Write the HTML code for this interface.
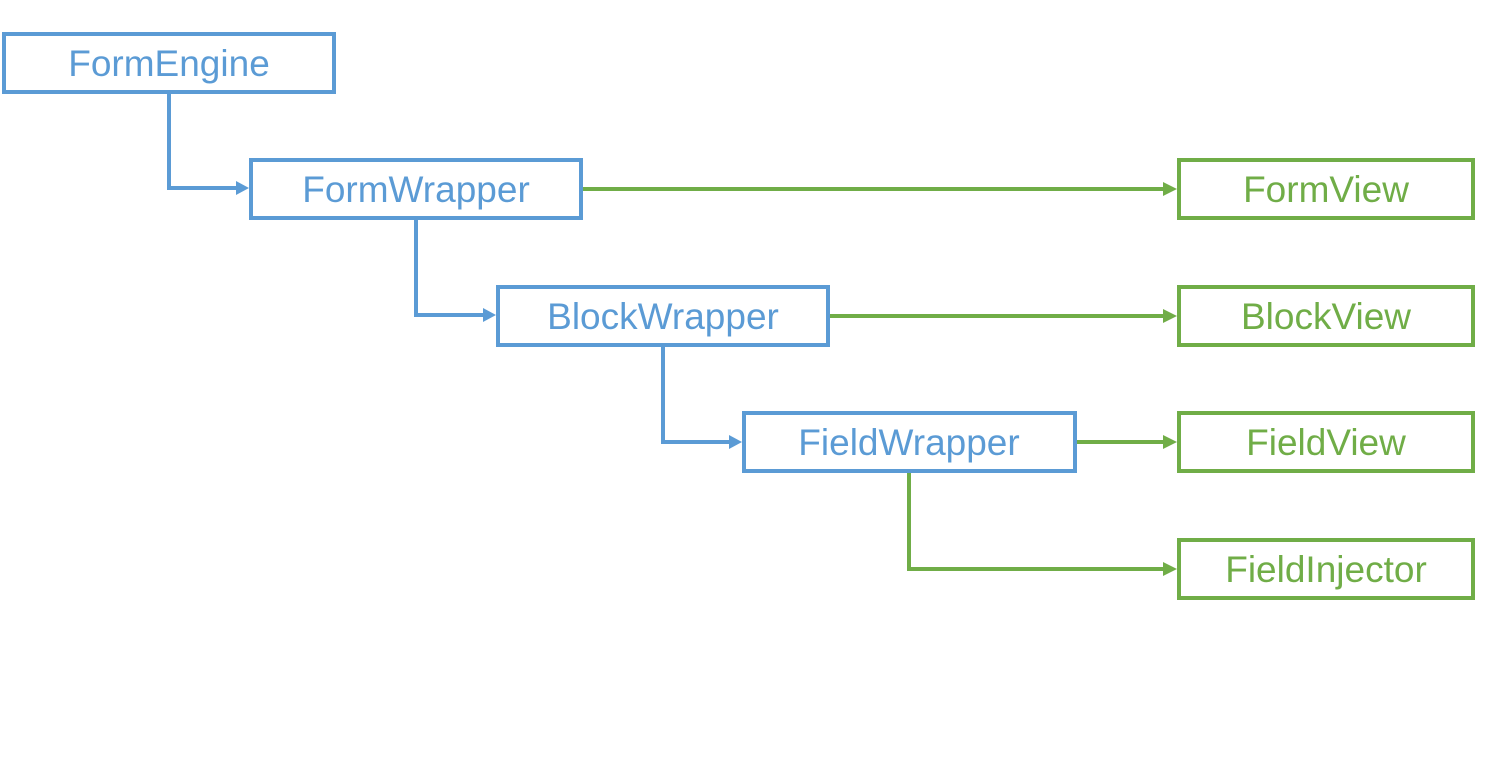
<!DOCTYPE html>
<html><head><style>body{margin:0;background:#fff}</style></head><body>
<svg width="1495" height="775" xmlns="http://www.w3.org/2000/svg" font-family="Liberation Sans, Arial, sans-serif" font-size="37">
<g fill="none" stroke-width="4">
<g stroke="#5B9BD5">
<rect x="4" y="34" width="330" height="58"/>
<rect x="251" y="160" width="330" height="58"/>
<rect x="498" y="287" width="330" height="58"/>
<rect x="744" y="413" width="331" height="58"/>
<polyline points="169,94 169,188 238,188"/>
<polyline points="416,220 416,315 485,315"/>
<polyline points="663,347 663,442 731,442"/>
</g>
<g stroke="#70AD47">
<rect x="1179" y="160" width="294" height="58"/>
<rect x="1179" y="287" width="294" height="58"/>
<rect x="1179" y="413" width="294" height="58"/>
<rect x="1179" y="540" width="294" height="58"/>
<line x1="583" y1="189" x2="1165" y2="189"/>
<line x1="830" y1="316" x2="1165" y2="316"/>
<line x1="1077" y1="442" x2="1165" y2="442"/>
<polyline points="909,473 909,569 1165,569"/>
</g>
</g>
<g fill="#5B9BD5">
<polygon points="236,181 249,188 236,195"/>
<polygon points="483,308 496,315 483,322"/>
<polygon points="729,435 742,442 729,449"/>
</g>
<g fill="#70AD47">
<polygon points="1163,182 1177,189 1163,196"/>
<polygon points="1163,309 1177,316 1163,323"/>
<polygon points="1163,435 1177,442 1163,449"/>
<polygon points="1163,562 1177,569 1163,576"/>
</g>
<g text-anchor="middle" fill="#5B9BD5">
<text x="169" y="76">FormEngine</text>
<text x="416" y="202">FormWrapper</text>
<text x="663" y="329">BlockWrapper</text>
<text x="909" y="455">FieldWrapper</text>
</g>
<g text-anchor="middle" fill="#70AD47">
<text x="1326" y="202">FormView</text>
<text x="1326" y="329">BlockView</text>
<text x="1326" y="455">FieldView</text>
<text x="1326" y="582">FieldInjector</text>
</g>
</svg>
</body></html>
